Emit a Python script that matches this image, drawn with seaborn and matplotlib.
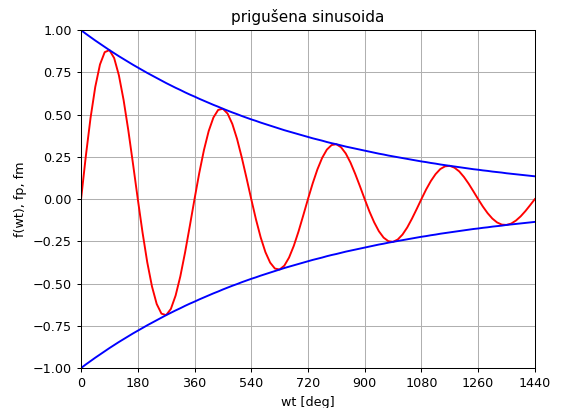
import matplotlib
matplotlib.use("Agg")
import matplotlib.pyplot as plt
import seaborn as sns

# wt in stupnjevima, korak 15 deg
wt = [0, 15, 30, 45, 60, 75, 90, 105, 120, 135, 150, 165,
      180, 195, 210, 225, 240, 255, 270, 285, 300, 315, 330, 345,
      360, 375, 390, 405, 420, 435, 450, 465, 480, 495, 510, 525,
      540, 555, 570, 585, 600, 615, 630, 645, 660, 675, 690, 705,
      720, 735, 750, 765, 780, 795, 810, 825, 840, 855, 870, 885,
      900, 915, 930, 945, 960, 975, 990, 1005, 1020, 1035, 1050, 1065,
      1080, 1095, 1110, 1125, 1140, 1155, 1170, 1185, 1200, 1215, 1230, 1245,
      1260, 1275, 1290, 1305, 1320, 1335, 1350, 1365, 1380, 1395, 1410, 1425,
      1440]

# prigusena sinusoida
f_wt = [0.000, 0.253, 0.480, 0.664, 0.797, 0.870, 0.882, 0.835, 0.733, 0.586, 0.406, 0.206,
        0.000, -0.197, -0.374, -0.517, -0.621, -0.678, -0.687, -0.650, -0.571, -0.457, -0.316, -0.160,
        0.000, 0.154, 0.291, 0.403, 0.483, 0.528, 0.535, 0.506, 0.445, 0.356, 0.246, 0.125,
        0.000, -0.120, -0.227, -0.314, -0.376, -0.411, -0.417, -0.394, -0.346, -0.277, -0.192, -0.097,
        0.000, 0.093, 0.176, 0.244, 0.293, 0.320, 0.325, 0.307, 0.270, 0.216, 0.149, 0.076,
        0.000, -0.073, -0.137, -0.190, -0.228, -0.249, -0.253, -0.239, -0.210, -0.168, -0.116, -0.059,
        0.000, 0.057, 0.107, 0.148, 0.178, 0.194, 0.197, 0.186, 0.164, 0.131, 0.091, 0.046,
        0.000, -0.044, -0.083, -0.115, -0.138, -0.151, -0.153, -0.145, -0.127, -0.102, -0.071, -0.036,
        0.000]

# gornja ovojnica
fp = [1.000, 0.979, 0.959, 0.939, 0.920, 0.901, 0.882, 0.864, 0.846, 0.829, 0.812, 0.795,
      0.779, 0.763, 0.747, 0.732, 0.717, 0.702, 0.687, 0.673, 0.659, 0.646, 0.632, 0.619,
      0.607, 0.594, 0.582, 0.570, 0.558, 0.547, 0.535, 0.524, 0.513, 0.503, 0.492, 0.482,
      0.472, 0.463, 0.453, 0.444, 0.435, 0.426, 0.417, 0.408, 0.400, 0.392, 0.384, 0.376,
      0.368, 0.360, 0.353, 0.346, 0.338, 0.331, 0.325, 0.318, 0.311, 0.305, 0.299, 0.293,
      0.287, 0.281, 0.275, 0.269, 0.264, 0.258, 0.253, 0.248, 0.243, 0.238, 0.233, 0.228,
      0.223, 0.219, 0.214, 0.210, 0.205, 0.201, 0.197, 0.193, 0.189, 0.185, 0.181, 0.177,
      0.174, 0.170, 0.167, 0.163, 0.160, 0.157, 0.153, 0.150, 0.147, 0.144, 0.141, 0.138,
      0.135]

# donja ovojnica
fm = [-1.000, -0.979, -0.959, -0.939, -0.920, -0.901, -0.882, -0.864, -0.846, -0.829, -0.812, -0.795,
      -0.779, -0.763, -0.747, -0.732, -0.717, -0.702, -0.687, -0.673, -0.659, -0.646, -0.632, -0.619,
      -0.607, -0.594, -0.582, -0.570, -0.558, -0.547, -0.535, -0.524, -0.513, -0.503, -0.492, -0.482,
      -0.472, -0.463, -0.453, -0.444, -0.435, -0.426, -0.417, -0.408, -0.400, -0.392, -0.384, -0.376,
      -0.368, -0.360, -0.353, -0.346, -0.338, -0.331, -0.325, -0.318, -0.311, -0.305, -0.299, -0.293,
      -0.287, -0.281, -0.275, -0.269, -0.264, -0.258, -0.253, -0.248, -0.243, -0.238, -0.233, -0.228,
      -0.223, -0.219, -0.214, -0.210, -0.205, -0.201, -0.197, -0.193, -0.189, -0.185, -0.181, -0.177,
      -0.174, -0.170, -0.167, -0.163, -0.160, -0.157, -0.153, -0.150, -0.147, -0.144, -0.141, -0.138,
      -0.135]

x_ticks = [0, 180, 360, 540, 720, 900, 1080, 1260, 1440]

# original je malo umanjen (~0.915), pa skaliramo fontove i linije
s = 0.915
plt.rcParams['font.size'] = 10 * s
plt.rcParams['axes.titlesize'] = 12 * s
plt.rcParams['axes.linewidth'] = 0.8 * s
plt.rcParams['grid.linewidth'] = 0.8 * s
plt.rcParams['xtick.major.width'] = 0.8 * s
plt.rcParams['ytick.major.width'] = 0.8 * s
plt.rcParams['xtick.major.size'] = 3.5 * s
plt.rcParams['ytick.major.size'] = 3.5 * s

fig, ax = plt.subplots(figsize=(5.63, 4.08), dpi=100)
fig.subplots_adjust(left=0.144, right=0.950, top=0.926, bottom=0.098)

sns.lineplot(x=wt, y=f_wt, color='red', linewidth=1.5 * s, ax=ax)
sns.lineplot(x=wt, y=fp, color='blue', linewidth=1.5 * s, ax=ax)
sns.lineplot(x=wt, y=fm, color='blue', linewidth=1.5 * s, ax=ax)

ax.set_xlim(0, 1440)
ax.set_ylim(-1, 1)
ax.set_xticks(x_ticks)
ax.grid(True)
ax.set_title('prigušena sinusoida')
ax.set_xlabel('wt [deg]')
ax.set_ylabel('f(wt), fp, fm')

plt.savefig('out.png', dpi=100)
plt.close()
